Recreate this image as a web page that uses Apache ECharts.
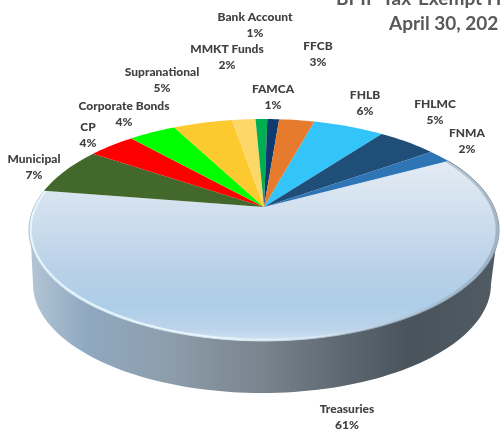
<!DOCTYPE html>
<html>
<head>
<meta charset="utf-8">
<style>html,body{margin:0;padding:0;background:#fff;overflow:hidden}#c{width:500px;height:432px}</style>
<script src="https://cdn.jsdelivr.net/npm/echarts@6/dist/echarts.min.js"></script>
</head>
<body>
<div id="c"></div>
<script>
const categories = ['Treasuries','Municipal','CP','Corporate Bonds','Supranational','MMKT Funds','Bank Account','FAMCA','FFCB','FHLB','FHLMC','FNMA'];
const percents = [61,7,4,4,5,2,1,1,3,6,5,2];
const titleLines = ['BPIP Tax-Exempt H','April 30, 202'];

const sliceColors = ['#cfdfee','#43682b','#ff0000','#00ff00','#fcc92f','#fdd868','#00b050','#0e3a70','#e67b2e','#33c4fa','#1f4e79','#2e75b6'];
// label centre in page pixels, by category
const labelCentres = {
  'Treasuries':[347,417],'Municipal':[34,167],'CP':[88,135],'Corporate Bonds':[124,114],
  'Supranational':[162,80],'MMKT Funds':[227,57],'Bank Account':[255,25],'FAMCA':[273,97],
  'FFCB':[318,54],'FHLB':[365,103],'FHLMC':[435,112],'FNMA':[467,141]
};
// perspective projection of the pie disc
const G = {cx:264, y0:207, rx:230, ry:106.2, p:0.207, startDeg:28.4,
           botCx:262, botCy:284, botRx:229, botRy:109};
const total = percents.reduce((a,b)=>a+b,0);

function project(deg, r){
  const t = deg*Math.PI/180, u = r*Math.cos(t), v = -r*Math.sin(t), w = 1-G.p*v;
  return [G.cx+G.rx*u/w, G.y0+G.ry*v/w];
}
function arc(from, to, r){
  const n = Math.max(2, Math.ceil(Math.abs(to-from)/1.5)), pts=[];
  for(let i=0;i<=n;i++) pts.push(project(from+(to-from)*i/n, r));
  return pts;
}
function rimShape(){
  const pts=[[30,222]];
  for(let i=0;i<=90;i++){
    const t=Math.PI-Math.PI*i/90;
    pts.push([G.botCx+G.botRx*Math.cos(t), G.botCy+G.botRy*Math.sin(t)]);
  }
  pts.push([499,222]);
  return pts;
}
const grad=(x,y,x2,y2,stops)=>({type:'linear',x,y,x2,y2,global:true,
  colorStops:stops.map(s=>({offset:s[0],color:s[1]}))});

function renderItem(params, api){
  const i = params.dataIndex, val = api.value(0);
  let before = 0; for(let k=0;k<i;k++) before += percents[k];
  const a0 = G.startDeg - before/total*360, a1 = a0 - val/total*360;
  const pts = [project(0,0)].concat(arc(a0,a1,1));
  const kids = [];
  if(i===0){
    kids.push({type:'polygon',shape:{points:rimShape()},silent:true,style:{
      fill:grad(30,0,495,0,[[0,'#b4c5d5'],[0.12,'#8fa9c1'],[0.3,'#8e9dab'],[0.5,'#78848e'],[0.65,'#606b75'],[0.82,'#49535b'],[1,'#505b64']])}});
  }
  kids.push({type:'polygon',shape:{points:pts},style:{
    fill:i===0?grad(0,160,0,342,[[0,'#e4ecf4'],[0.3,'#d0dfee'],[0.6,'#b9d1e8'],[0.8,'#aecde8'],[0.93,'#bcd4ea'],[1,'#d3e3f1']]):sliceColors[i]}});
  if(i===0){
    // soft bevel: bright on the lower left, shaded on the right
    kids.push({type:'polyline',shape:{points:arc(-75,a1,0.993)},silent:true,style:{fill:null,lineWidth:2.2,opacity:0.85,
      stroke:grad(30,0,340,0,[[0,'#eafaff'],[0.6,'#eef8fd'],[1,'#d4e4f1']])}});
    kids.push({type:'polyline',shape:{points:arc(a0,-75,0.992)},silent:true,style:{fill:null,lineWidth:3,opacity:0.55,
      stroke:grad(340,0,499,0,[[0,'#c9dbea'],[0.5,'#a9bed0'],[1,'#7f93a4']])}});
    kids.push({type:'polyline',shape:{points:arc(a0,a1,1)},silent:true,style:{fill:null,lineWidth:0.9,
      stroke:grad(30,0,499,0,[[0,'#b3bec8'],[0.08,'#dfeaf3'],[0.5,'#d8e5ef'],[0.75,'#8e9fae'],[0.93,'#7c8893'],[1,'#8a96a1']])}});
  }
  const c = labelCentres[categories[i]];
  kids.push({type:'text',silent:true,z2:10,style:{text:categories[i]+'\n'+val+'%',x:c[0],y:c[1],
    align:'center',verticalAlign:'middle',lineHeight:16,
    font:'900 12px Lato, sans-serif',fill:'#404040'}});
  return {type:'group',children:kids};
}

const chart = echarts.init(document.getElementById('c'),null,{renderer:'canvas'});
chart.setOption({
  animation:false,
  backgroundColor:'#ffffff',
  title:[
    {text:titleLines[0],left:336,top:-11,padding:0,textStyle:{fontFamily:'Lato',fontWeight:'bold',fontSize:19,color:'#595959'}},
    {text:titleLines[1],left:389,top:14,padding:0,textStyle:{fontFamily:'Lato',fontWeight:'bold',fontSize:19,color:'#595959'}}
  ],
  series:[{type:'custom',coordinateSystem:'none',clip:false,renderItem:renderItem,
    encode:{value:0,itemName:1},
    data:categories.map((n,i)=>({name:n,value:[percents[i]]}))}]
});
</script>
</body>
</html>
